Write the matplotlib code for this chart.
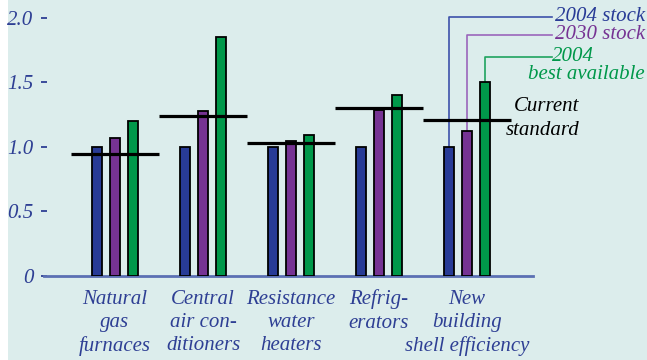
import numpy as np
import matplotlib.pyplot as plt
from matplotlib.patches import Rectangle

# Efficiency relative to 2004 stock
categories = ["Natural\ngas\nfurnaces", "Central\nair con-\nditioners", "Resistance\nwater\nheaters",
              "Refrig-\nerators", "New\nbuilding\nshell efficiency"]
stock_2004 = [1.00, 1.00, 1.00, 1.00, 1.00]
stock_2030 = [1.07, 1.28, 1.05, 1.29, 1.12]
best_2004 = [1.20, 1.85, 1.09, 1.40, 1.50]
current_standard = [0.945, 1.24, 1.03, 1.30, 1.21]
series_names = ["2004 stock", "2030 stock", "2004\nbest available"]
yticks = [0, 0.5, 1.0, 1.5, 2.0]
ytick_labels = ["0", "0.5", "1.0", "1.5", "2.0"]

bg = "#dcedec"
blue = "#283b96"
purple = "#763393"
green = "#00984a"
text_blue = "#2e3f94"
axis_blue = "#5b70b3"

plt.rcParams['font.family'] = ['Liberation Serif', 'DejaVu Serif']
plt.rcParams['font.style'] = 'italic'
fs = 15

fig = plt.figure(figsize=(6.47, 3.60), dpi=100)
fig.patch.set_facecolor("white")
fig.patches.append(Rectangle((8 / 647, 0), 1, 1, transform=fig.transFigure,
                             facecolor=bg, edgecolor="none", zorder=-10))

ax = fig.add_axes([44 / 647, 84 / 360, (533 - 44) / 647, (276 - 5) / 360])
ax.set_facecolor("none")

x = np.arange(len(categories))
off = 0.2
w = 0.115
colors = [blue, purple, green]
for k, vals in enumerate([stock_2004, stock_2030, best_2004]):
    ax.bar(x + (k - 1) * off, vals, width=w, color=colors[k], edgecolor="black",
           linewidth=1.3, zorder=3)

# current standard lines
for i, s in enumerate(current_standard):
    ax.plot([i - 0.5, i + 0.5], [s, s], color="black", lw=2.3, zorder=4,
            solid_capstyle="butt")

ax.set_xlim(-0.807, 4.75)
ax.set_ylim(0, 2.1)
for side in ["top", "right", "left"]:
    ax.spines[side].set_visible(False)
ax.spines["bottom"].set_color(axis_blue)
ax.spines["bottom"].set_linewidth(2)
ax.spines["bottom"].set_zorder(2)

ax.set_xticks([])
ax.set_yticks(yticks)
ax.set_yticklabels(ytick_labels, fontsize=fs, color=text_blue)
ax.tick_params(axis="y", direction="inout", length=5, width=1.3, color=text_blue, pad=5)

for i, c in enumerate(categories):
    ax.text(i, -0.105, c, ha="center", va="top", fontsize=fs, color=text_blue,
            linespacing=1.3, clip_on=False)

# callouts for the last group
last = len(categories) - 1
label_y = [2.008, 1.868, 1.698]
line_colors = ["#3d52aa", "#9a66bb", "#1fa35f"]
tops = [stock_2004[last], stock_2030[last], best_2004[last]]
text_x = 4.97
for k in range(3):
    bx = last + (k - 1) * off
    ax.plot([bx, bx, text_x], [tops[k], label_y[k], label_y[k]], color=line_colors[k],
            lw=1.2, zorder=2, clip_on=False)
ax.text(6.02, label_y[0], series_names[0], color=blue, fontsize=fs, ha="right",
        va="center", clip_on=False)
ax.text(6.02, label_y[1], series_names[1], color=purple, fontsize=fs, ha="right",
        va="center", clip_on=False)
ax.text(text_x, label_y[2], "2004", color=green, fontsize=fs, ha="left",
        va="center", clip_on=False)
ax.text(6.02, label_y[2] - 0.135, "best available", color=green, fontsize=fs, ha="right",
        va="center", clip_on=False)

ax.text(5.28, 1.31, "Current", color="black", fontsize=fs, ha="right", va="center")
ax.text(5.28, 1.124, "standard", color="black", fontsize=fs, ha="right", va="center")

fig.savefig("out.png", dpi=100)
